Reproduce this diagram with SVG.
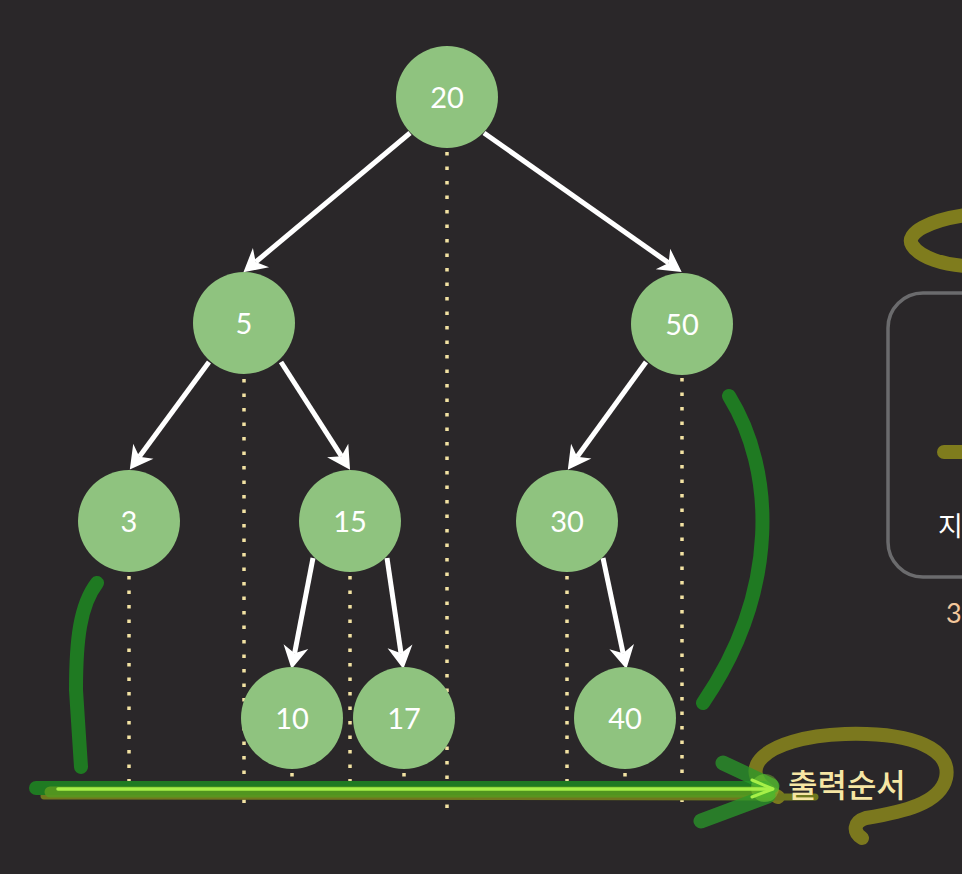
<svg xmlns="http://www.w3.org/2000/svg" width="962" height="874" viewBox="0 0 962 874">
<defs>
<style>
.node circle{fill:#8fc37f}
.node text{fill:#ffffff;font-family:Lato,"Open Sans","DejaVu Sans",sans-serif;font-size:29px;text-anchor:middle}
.edge{stroke:#ffffff;stroke-width:5;fill:none;marker-end:url(#ah)}
.dots{stroke:#f2e2a2;stroke-width:3.5;stroke-dasharray:3.5 11;fill:none}
.pen{fill:none;stroke-linecap:round;stroke-linejoin:round}
</style>
<marker id="ah" markerUnits="userSpaceOnUse" markerWidth="32" markerHeight="32" viewBox="-2 -13 28 26" refX="6" refY="0" orient="auto">
<path d="M0,-11 L20,0 L0,11 L6,0 Z" fill="#ffffff"/>
</marker>
</defs>
<rect width="962" height="874" fill="#2a2729"/>

<!-- right side partial panel -->
<rect x="888" y="293" width="150" height="284" rx="35" fill="none" stroke="#6b6b6d" stroke-width="3.5"/>
<path class="pen" d="M966,215 C930,220 905,233 912,245 C920,258 945,265 966,266" stroke="#7f7c1d" stroke-width="14"/>
<line class="pen" x1="944" y1="452" x2="970" y2="452" stroke="#7f7c1d" stroke-width="14"/>
<text x="938" y="536" fill="#ffffff" font-family="'Noto Sans CJK KR',sans-serif" font-size="27">지</text>
<text x="946" y="623" fill="#f3c79c" font-family="Lato,sans-serif" font-size="27">3</text>

<!-- dotted guides -->
<g id="guides">
<line class="dots" x1="129" y1="576" x2="129" y2="808"/>
<line class="dots" x1="244" y1="379" x2="244" y2="808"/>
<line class="dots" x1="447" y1="152" x2="447" y2="808"/>
<line class="dots" x1="682" y1="378" x2="682" y2="808"/>
<line class="dots" x1="350" y1="576" x2="350" y2="808"/>
<line class="dots" x1="567" y1="576" x2="567" y2="808"/>
<line class="dots" x1="292" y1="773" x2="292" y2="802"/>
<line class="dots" x1="404" y1="773" x2="404" y2="802"/>
<line class="dots" x1="625" y1="773" x2="625" y2="802"/>
</g>

<!-- connectors -->
<g id="connectors">
<line class="edge" x1="410" y1="133" x2="255.7" y2="262"/>
<line class="edge" x1="484" y1="133" x2="668.6" y2="262.9"/>
<line class="edge" x1="209" y1="362" x2="139.3" y2="456.7"/>
<line class="edge" x1="281" y1="362" x2="341.4" y2="456.2"/>
<line class="edge" x1="646" y1="362" x2="577.2" y2="456.7"/>
<line class="edge" x1="313" y1="558" x2="294.6" y2="653.3"/>
<line class="edge" x1="387" y1="558" x2="401" y2="653.2"/>
<line class="edge" x1="603" y1="558" x2="623.1" y2="653.3"/>
</g>

<!-- nodes -->
<g id="n20" class="node"><circle cx="447" cy="97" r="51"/><text x="447" y="108">20</text></g>
<g id="n5" class="node"><circle cx="244" cy="323" r="51"/><text x="244" y="334">5</text></g>
<g id="n50" class="node"><circle cx="682" cy="324" r="51"/><text x="682" y="335">50</text></g>
<g id="n3" class="node"><circle cx="129" cy="521" r="51"/><text x="129" y="532">3</text></g>
<g id="n15" class="node"><circle cx="350" cy="521" r="51"/><text x="350" y="532">15</text></g>
<g id="n30" class="node"><circle cx="567" cy="521" r="51"/><text x="567" y="532">30</text></g>
<g id="n10" class="node"><circle cx="292" cy="718" r="51"/><text x="292" y="729">10</text></g>
<g id="n17" class="node"><circle cx="404" cy="718" r="51"/><text x="404" y="729">17</text></g>
<g id="n40" class="node"><circle cx="625" cy="718" r="51"/><text x="625" y="729">40</text></g>

<!-- hand-drawn marks -->
<path class="pen" d="M97,583 C80,605 76,640 76,690 L81,767" stroke="#1f7a22" stroke-width="14"/>
<path class="pen" d="M729,396 C775,470 780,590 703,703" stroke="#1f7a22" stroke-width="14"/>

<path class="pen" d="M778,797 C730,772 762,737 845,734 C915,732 952,750 946,778 C940,804 902,812 866,818 C853,822 853,832 862,838" stroke="#7f7c1d" stroke-width="14" opacity="0.95"/>
<line class="pen" x1="44" y1="796" x2="815" y2="797" stroke="#6f781e" stroke-width="7"/>
<line class="pen" x1="36" y1="788" x2="765" y2="788" stroke="#1f7a22" stroke-width="14"/>
<line class="pen" x1="50" y1="792" x2="770" y2="792" stroke="#56981f" stroke-width="11" opacity="0.9"/>
<line class="pen" x1="723" y1="763" x2="772" y2="786" stroke="#2a9a2a" stroke-width="15" opacity="0.75"/>
<line class="pen" x1="701" y1="821" x2="768" y2="796" stroke="#2a9a2a" stroke-width="15" opacity="0.75"/>
<circle cx="765" cy="788" r="14" fill="#8ee83a" opacity="0.35"/>
<line class="pen" x1="58" y1="789" x2="772" y2="789" stroke="#a6f048" stroke-width="3.5"/>
<path class="pen" d="M752,780 L773,789 L752,797" stroke="#a6f048" stroke-width="3"/>

<text x="788" y="797" fill="#f6e6a4" font-family="'Noto Sans CJK KR',sans-serif" font-size="32" font-weight="500">출력순서</text>
</svg>
